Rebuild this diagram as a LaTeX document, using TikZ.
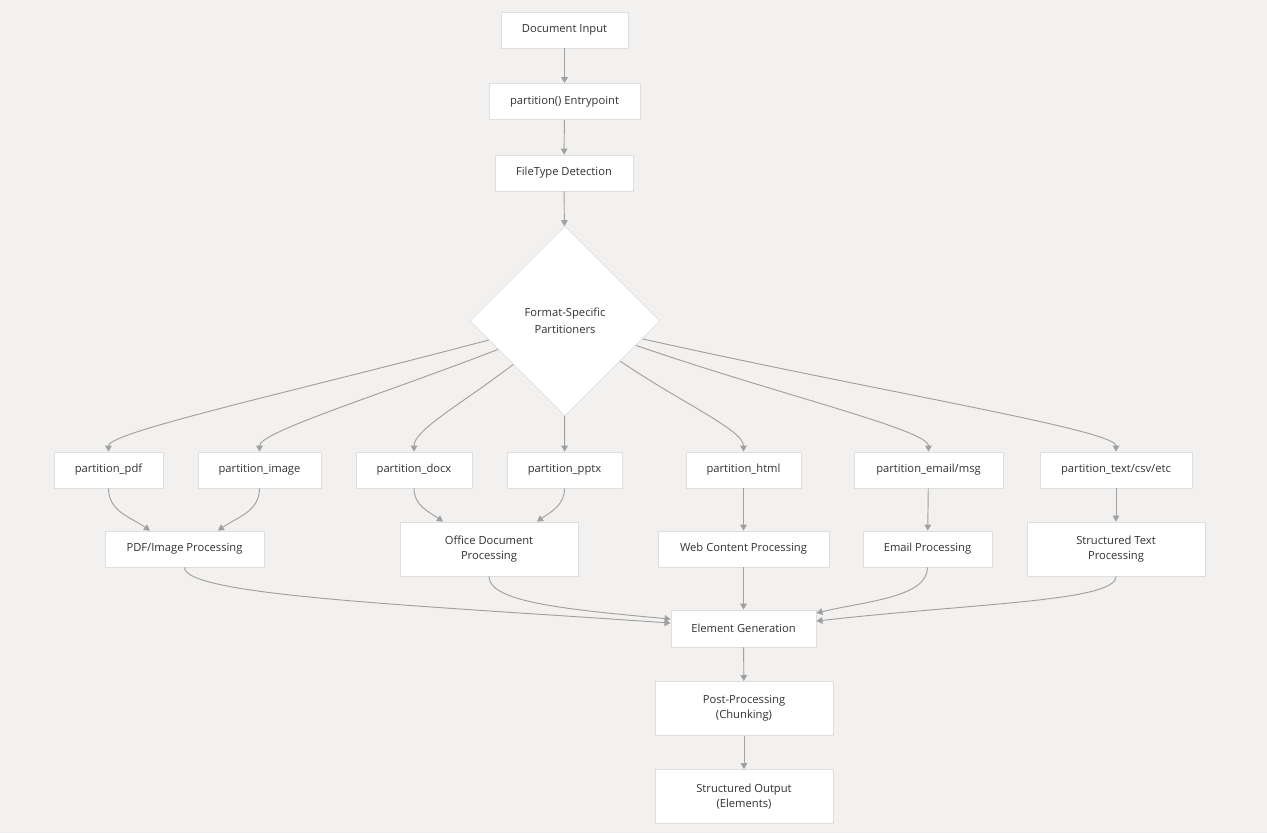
\documentclass[tikz,border=0pt]{standalone}
\usepackage{fontspec}
\setmainfont{Open Sans}
\usetikzlibrary{arrows.meta,shapes.geometric}
\definecolor{bgcol}{RGB}{242,241,239}
\definecolor{boxline}{RGB}{222,222,222}
\definecolor{linkcol}{RGB}{160,160,160}
\definecolor{txtcol}{RGB}{51,51,51}
\tikzset{
	box/.style={draw=boxline, line width=0.6pt, fill=white, minimum height=27pt, inner sep=2pt, align=center, text=txtcol, font=\fontsize{8.4}{11.5}\selectfont},
	tallbox/.style={box, minimum height=40.5pt},
	choice/.style={diamond, draw=boxline, line width=0.6pt, fill=white, minimum width=142.5pt, minimum height=142.5pt, inner sep=0pt, align=center, text=txtcol, font=\fontsize{8.4}{13}\selectfont},
	link/.style={draw=linkcol, line width=0.7pt, -{Triangle[width=5pt,length=4.5pt]}}
}
\begin{document}
\begin{tikzpicture}[x=0.75pt, y=-0.75pt]
			\fill[bgcol] (0,0) rectangle (1267,833);
			\useasboundingbox (0,0) rectangle (1267,833);
			
			\node[box, minimum width=95.3pt] (input) at (564.5,30) {Document Input};
			\node[box, minimum width=113.3pt] (entry) at (564.5,101.5) {partition() Entrypoint};
			\node[box, minimum width=103.5pt] (detect) at (564,173) {FileType Detection};
			\node[choice] (formats) at (565,321) {Format-Specific\\Partitioners};
			
			\node[box, minimum width=81.8pt] (pdf) at (108.5,470) {partition\_pdf};
			\node[box, minimum width=92.3pt] (image) at (259.5,470) {partition\_image};
			\node[box, minimum width=87pt] (docx) at (414,470) {partition\_docx};
			\node[box, minimum width=86.3pt] (pptx) at (564.5,470) {partition\_pptx};
			\node[box, minimum width=86.3pt] (html) at (743.5,470) {partition\_html};
			\node[box, minimum width=111.8pt] (email) at (928.5,470) {partition\_email/msg};
			\node[box, minimum width=114pt] (text) at (1116,470) {partition\_text/csv/etc};
			
			\node[box, minimum width=119.3pt] (pdfproc) at (184.5,549) {PDF/Image Processing};
			\node[tallbox, minimum width=133.5pt] (officeproc) at (489,549) {Office Document\\Processing};
			\node[box, minimum width=128.3pt] (webproc) at (743.5,549) {Web Content Processing};
			\node[box, minimum width=96.8pt] (emailproc) at (927.5,549) {Email Processing};
			\node[tallbox, minimum width=133.5pt] (textproc) at (1116,549) {Structured Text\\Processing};
			
			\node[box, minimum width=108.8pt, minimum height=27.8pt] (elements) at (743.5,628.5) {Element Generation};
			\node[tallbox, minimum width=133.5pt] (post) at (744,708.5) {Post-Processing\\(Chunking)};
			\node[tallbox, minimum width=133.5pt] (output) at (744,796.5) {Structured Output\\(Elements)};
			
			\draw[link] (input) -- (entry);
			\draw[link] (entry) -- (detect);
			\draw[link] (detect) -- (formats);
			
			\draw[link] (formats.194) .. controls (300,390) and (108.5,432) .. (pdf.north);
			\draw[link] (formats.203) .. controls (380,395) and (259.5,432) .. (image.north);
			\draw[link] (formats.220) .. controls (460,405) and (414,430) .. (docx.north);
			\draw[link] (formats) -- (pptx);
			\draw[link] (formats.324) .. controls (680,402) and (743.5,430) .. (html.north);
			\draw[link] (formats.341) .. controls (780,395) and (928.5,430) .. (email.north);
			\draw[link] (formats.347) .. controls (880,392) and (1116,430) .. (text.north);
			
			\draw[link] (pdf.south) to[out=270, in=145] ([xshift=-25.9pt]pdfproc.north);
			\draw[link] (image.south) to[out=270, in=35] ([xshift=25.1pt]pdfproc.north);
			\draw[link] (docx.south) to[out=270, in=145] ([xshift=-34.5pt]officeproc.north);
			\draw[link] (pptx.south) to[out=270, in=35] ([xshift=36pt]officeproc.north);
			\draw[link] (html) -- (webproc);
			\draw[link] (email) -- (emailproc);
			\draw[link] (text) -- (textproc);
			
			\draw[link] (pdfproc.south) .. controls +(0,28) and +(-260,-18) .. ([yshift=4.1pt]elements.west);
			\draw[link] (officeproc.south) .. controls +(0,25) and +(-110,-10) .. ([yshift=7.1pt]elements.west);
			\draw[link] (webproc) -- (elements);
			\draw[link] (emailproc.south) .. controls +(0,30) and +(50,-12) .. ([yshift=11.6pt]elements.east);
			\draw[link] (textproc.south) .. controls +(0,25) and +(160,-18) .. ([yshift=5.6pt]elements.east);
			
			\draw[link] (elements) -- (post);
			\draw[link] (post) -- (output);
		\end{tikzpicture}
\end{document}
